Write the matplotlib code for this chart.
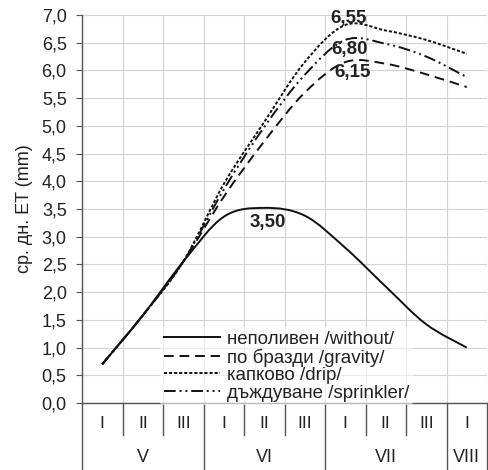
import numpy as np
import matplotlib
matplotlib.use('Agg')
import matplotlib.pyplot as plt
from matplotlib.path import Path
from matplotlib.patches import PathPatch
from matplotlib.lines import Line2D

plt.rcParams['font.family'] = ['Liberation Sans', 'DejaVu Sans']

decades = ['I', 'II', 'III', 'I', 'II', 'III', 'I', 'II', 'III', 'I']
months = ['V', 'VI', 'VII', 'VIII']
month_spans = [3, 3, 3, 1]

without = [0.70, 1.58, 2.55, 3.36, 3.52, 3.38, 2.80, 2.10, 1.42, 1.00]
gravity = [0.70, 1.58, 2.55, 3.72, 4.72, 5.60, 6.15, 6.12, 5.93, 5.70]
drip = [0.70, 1.58, 2.55, 3.95, 5.07, 6.15, 6.82, 6.72, 6.55, 6.30]
sprinkler = [0.70, 1.58, 2.55, 3.85, 4.98, 5.92, 6.55, 6.48, 6.25, 5.88]

names = ['неполивен /without/', 'по бразди /gravity/',
         'капково /drip/', 'дъждуване /sprinkler/']
peak_labels = ['6,55', '6,80', '6,15', '3,50']


def smooth_path(x, y):
    # Catmull-Rom style bezier, like a spreadsheet's smoothed line
    pts = np.column_stack([x, y])
    ext = np.vstack([pts[0], pts, pts[-1]])
    verts = [pts[0]]
    codes = [Path.MOVETO]
    for i in range(len(pts) - 1):
        p0, p1, p2, p3 = ext[i], ext[i + 1], ext[i + 2], ext[i + 3]
        verts += [p1 + (p2 - p0) / 6, p2 - (p3 - p1) / 6, p2]
        codes += [Path.CURVE4] * 3
    return Path(verts, codes)


fig = plt.figure(figsize=(4.88, 4.70), dpi=100)
ax = fig.add_axes([82 / 488, 67 / 470, 405 / 488, 388 / 470])

xs = np.arange(len(decades)) + 0.5
styles = [
    dict(linestyle='-'),
    dict(linestyle=(0, (5, 3))),
    dict(linestyle=(0, (1.6, 1.0))),
    dict(linestyle=(0, (6, 2, 1, 2, 1, 2))),
]
handles = []
for vals, st, nm in zip([without, gravity, drip, sprinkler], styles, names):
    patch = PathPatch(smooth_path(xs, vals), fill=False, edgecolor='#111111',
                      linewidth=1.4, zorder=3, **st)
    ax.add_patch(patch)
    handles.append(Line2D([], [], color='#111111', linewidth=1.4, label=nm, **st))

ax.set_xlim(0, 10)
ax.set_ylim(0, 7)
ax.set_yticks(np.arange(0, 7.01, 0.5))
ax.set_yticklabels([f'{v:.1f}'.replace('.', ',') for v in np.arange(0, 7.01, 0.5)],
                   fontsize=13, color='#222222')
ax.set_xticks(np.arange(0, 11))
ax.set_xticklabels([])
ax.tick_params(axis='x', length=0)
ax.tick_params(axis='y', length=4, color='#555555', pad=7)
ax.grid(True, color='#d4d4d4', linewidth=0.8)
ax.set_axisbelow(True)
for s in ['top', 'right']:
    ax.spines[s].set_visible(False)
for s in ['left', 'bottom']:
    ax.spines[s].set_color('#555555')
    ax.spines[s].set_linewidth(1.0)
ax.set_ylabel('ср. дн. ET (mm)', fontsize=13, color='#222222', labelpad=6)

# category axis below the plot
tr = ax.get_xaxis_transform()
row1 = -32 / 388
row2 = -67 / 388
for i, lab in enumerate(decades):
    ax.text(i + 0.5, -20 / 388, lab, transform=tr, ha='center', va='center',
            fontsize=12.5, color='#222222')
boundaries = np.cumsum([0] + month_spans)
for i in range(11):
    low = row2 if i in boundaries else row1
    ax.plot([i, i], [0, low], transform=tr, color='#555555', linewidth=1.0,
            clip_on=False)
for m, a, b in zip(months, boundaries[:-1], boundaries[1:]):
    ax.text((a + b) / 2, -54 / 388, m, transform=tr, ha='center', va='center',
            fontsize=13, color='#222222')

label_pos = [(6.57, 6.93), (6.62, 6.38), (6.67, 5.96), (4.59, 3.25)]
for txt, (px, py) in zip(peak_labels, label_pos):
    ax.text(px, py, txt, ha='center', va='center', fontsize=13.5,
            fontweight='bold', color='#222222', zorder=4)

leg = ax.legend(handles=handles, loc='lower left', bbox_to_anchor=(0.17, -0.03),
                fontsize=13.5, frameon=True, facecolor='white', edgecolor='none',
                framealpha=0.6, handlelength=3.0, handletextpad=0.35,
                labelspacing=0.02, borderpad=0.2)
for t in leg.get_texts():
    t.set_color('#222222')

fig.savefig('out.png', dpi=100)
